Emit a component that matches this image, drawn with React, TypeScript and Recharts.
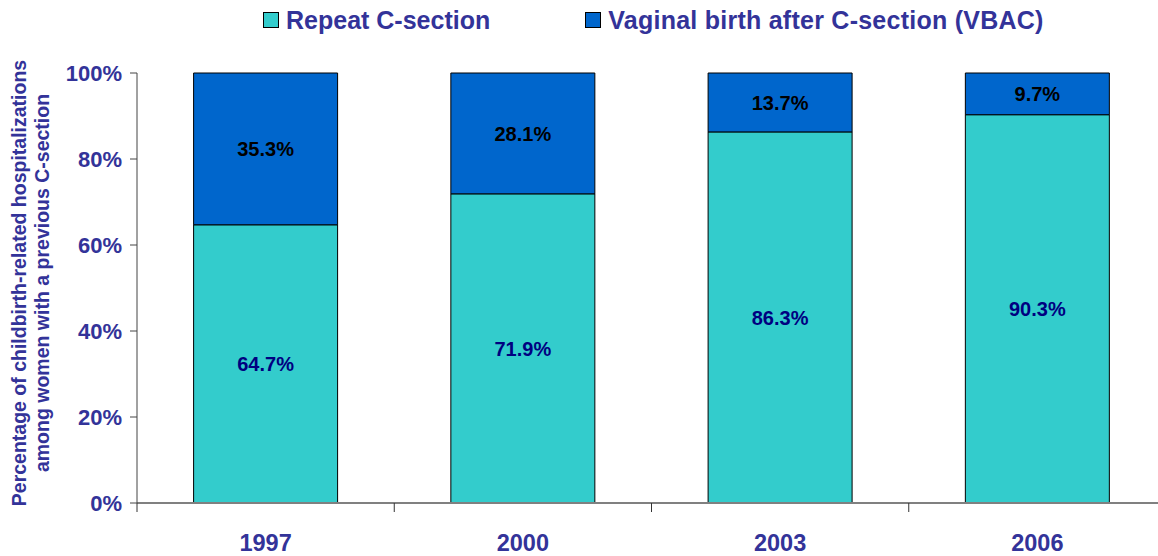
import { BarChart, Bar, XAxis, YAxis, LabelList } from "recharts";

const years = ["1997", "2000", "2003", "2006"];
const repeatCSection = [64.7, 71.9, 86.3, 90.3];
const vbac = [35.3, 28.1, 13.7, 9.7];
const yTicks = [0, 20, 40, 60, 80, 100];

const data = years.map((year, i) => ({
  year,
  repeat: repeatCSection[i],
  vbac: vbac[i],
}));

const FONT = "'Liberation Sans', Arial, sans-serif";
const TITLE_COLOR = "#333399";

const legendItems = [
  { label: "Repeat C-section", color: "#33CCCC" },
  { label: "Vaginal birth after C-section (VBAC)", color: "#0066CC" },
];

// tick mark at the category boundary, label at the centre
function XTick(props: any) {
  const { x, y, payload } = props;
  const edge = x - (payload.offset || 0);
  return (
    <g>
      <line x1={edge} y1={y - 8} x2={edge} y2={y + 1} stroke="#333" strokeWidth={1} />
      <text
        x={x}
        y={y + 40}
        textAnchor="middle"
        fill={TITLE_COLOR}
        fontSize={23.5}
        fontWeight="bold"
        fontFamily={FONT}
      >
        {payload.value}
      </text>
    </g>
  );
}

function YTitle() {
  return (
    <text
      transform="translate(31, 283) rotate(-90)"
      textAnchor="middle"
      fill={TITLE_COLOR}
      fontSize={19.5}
      fontWeight="bold"
      fontFamily={FONT}
    >
      <tspan x={0} dy={-5}>Percentage of childbirth-related hospitalizations</tspan>
      <tspan x={0} dy={23}>among women with a previous C-section</tspan>
    </text>
  );
}

export default function App() {
  return (
    <div
      style={{
        position: "relative",
        width: 1158,
        height: 556,
        overflow: "hidden",
        background: "#fff",
        fontFamily: FONT,
      }}
    >
      <style>{`body{margin:0}`}</style>
      {/* legend */}
      <div style={{ position: "absolute", top: 5, left: 263, display: "flex", zIndex: 1 }}>
        {legendItems.map((item, i) => (
          <div
            key={item.label}
            style={{ display: "flex", alignItems: "center", marginRight: i === 0 ? 95 : 0 }}
          >
            <span
              style={{
                width: 16,
                height: 16,
                background: item.color,
                border: "1px solid #000",
                marginRight: 7,
                boxSizing: "border-box",
              }}
            />
            <span
              style={{
                fontSize: 25,
                fontWeight: "bold",
                color: TITLE_COLOR,
                lineHeight: "30px",
                letterSpacing: i === 1 ? 0.25 : 0,
              }}
            >
              {item.label}
            </span>
          </div>
        ))}
      </div>
      <BarChart
        width={1188}
        height={556}
        data={data}
        margin={{ top: 73, right: 22, bottom: 23, left: 0 }}
        barCategoryGap="22%"
      >
        <XAxis
          dataKey="year"
          height={30}
          axisLine={{ stroke: "#808080", strokeWidth: 2 }}
          tickLine={false}
          tick={<XTick />}
          interval={0}
        />
        <YAxis
          domain={[0, 100]}
          ticks={yTicks}
          width={137}
          tickSize={7}
          tickFormatter={(v) => `${v}%`}
          axisLine={{ stroke: "#444" }}
          tickLine={{ stroke: "#444" }}
          tick={{ fill: TITLE_COLOR, fontSize: 22, fontWeight: "bold", fontFamily: FONT, dx: -6 }}
          label={{ content: <YTitle /> }}
        />
        <Bar
          dataKey="repeat"
          stackId="a"
          fill="#33CCCC"
          stroke="#000"
          strokeWidth={1}
          isAnimationActive={false}
        >
          <LabelList
            dataKey="repeat"
            position="center"
            formatter={(v: any) => `${v}%`}
            fill="#000080"
            fontSize={20}
            fontWeight="bold"
            fontFamily={FONT}
          />
        </Bar>
        <Bar
          dataKey="vbac"
          stackId="a"
          fill="#0066CC"
          stroke="#000"
          strokeWidth={1}
          isAnimationActive={false}
        >
          <LabelList
            dataKey="vbac"
            position="center"
            formatter={(v: any) => `${v}%`}
            fill="#000"
            fontSize={20}
            fontWeight="bold"
            fontFamily={FONT}
          />
        </Bar>
      </BarChart>
    </div>
  );
}
